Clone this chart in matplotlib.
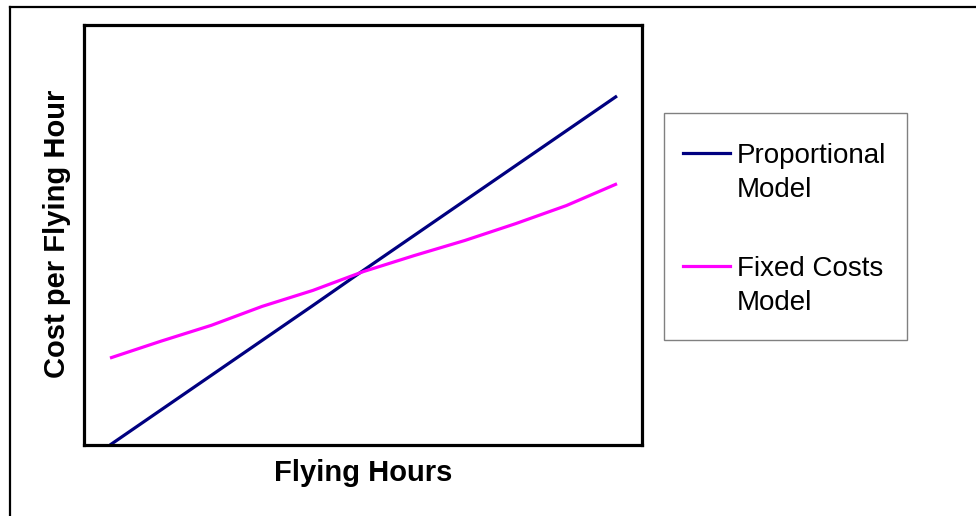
import matplotlib
matplotlib.use("Agg")
import matplotlib.pyplot as plt
from matplotlib.lines import Line2D
from matplotlib.patches import Rectangle

plt.rcParams['font.family'] = ['Liberation Sans', 'DejaVu Sans']

# data (arbitrary units, no ticks shown)
horas = [1, 2, 3, 4, 5, 6, 7, 8, 9, 10, 11]
proporcional = [0.0, 8.3, 16.6, 24.9, 33.2, 41.6, 49.9, 58.2, 66.5, 74.8, 83.1]
custos_fixos = [20.7, 24.7, 28.5, 33.0, 36.8, 41.3, 45.1, 48.7, 52.7, 57.0, 62.2]

nomes = ["Proportional\nModel", "Fixed Costs\nModel"]
cores = ["#000080", "#FF00FF"]

W, H = 976, 516
fig = plt.figure(figsize=(W / 100, H / 100), dpi=100)

def fx(px):
    return px / W

def fy(py):
    return 1 - py / H

# moldura externa (só topo e esquerda aparecem)
fig.add_artist(Line2D([fx(10), 1], [fy(7), fy(7)], color="black", lw=1.6, transform=fig.transFigure))
fig.add_artist(Line2D([fx(10), fx(10)], [fy(7), 0], color="black", lw=1.6, transform=fig.transFigure))

ax = fig.add_axes([fx(84), fy(445), fx(642) - fx(84), fy(25) - fy(445)])
for sp in ax.spines.values():
    sp.set_linewidth(2.3)
    sp.set_color("black")

ax.plot(horas, proporcional, color=cores[0], lw=2.3, solid_capstyle="butt")
ax.plot(horas, custos_fixos, color=cores[1], lw=2.3, solid_capstyle="butt")

# 1 -> px 110, 11 -> px 617
esc = (617 - 110) / 10
ax.set_xlim(1 - (110 - 84) / esc, 11 + (642 - 617) / esc)
ax.set_ylim(0, 100)
ax.set_xticks([])
ax.set_yticks([])

fig.text(fx(363), fy(473), "Flying Hours", fontsize=21, fontweight="bold", ha="center", va="center")
fig.text(fx(57), fy(234), "Cost per Flying Hour", fontsize=21, fontweight="bold",
         ha="center", va="center", rotation=90)

# legenda
fig.add_artist(Rectangle((fx(664), fy(340)), fx(907) - fx(664), fy(113) - fy(340),
                         transform=fig.transFigure, facecolor="white", edgecolor="#808080", lw=1))
for nome, cor, y_linha in zip(nomes, cores, [153, 266]):
    fig.add_artist(Line2D([fx(683), fx(730)], [fy(y_linha), fy(y_linha)], color=cor, lw=2.3,
                          transform=fig.transFigure))
    fig.text(fx(737), fy(y_linha - 10), nome, fontsize=20, ha="left", va="top", linespacing=1.38)

fig.savefig("out.png", dpi=100, facecolor="white")
